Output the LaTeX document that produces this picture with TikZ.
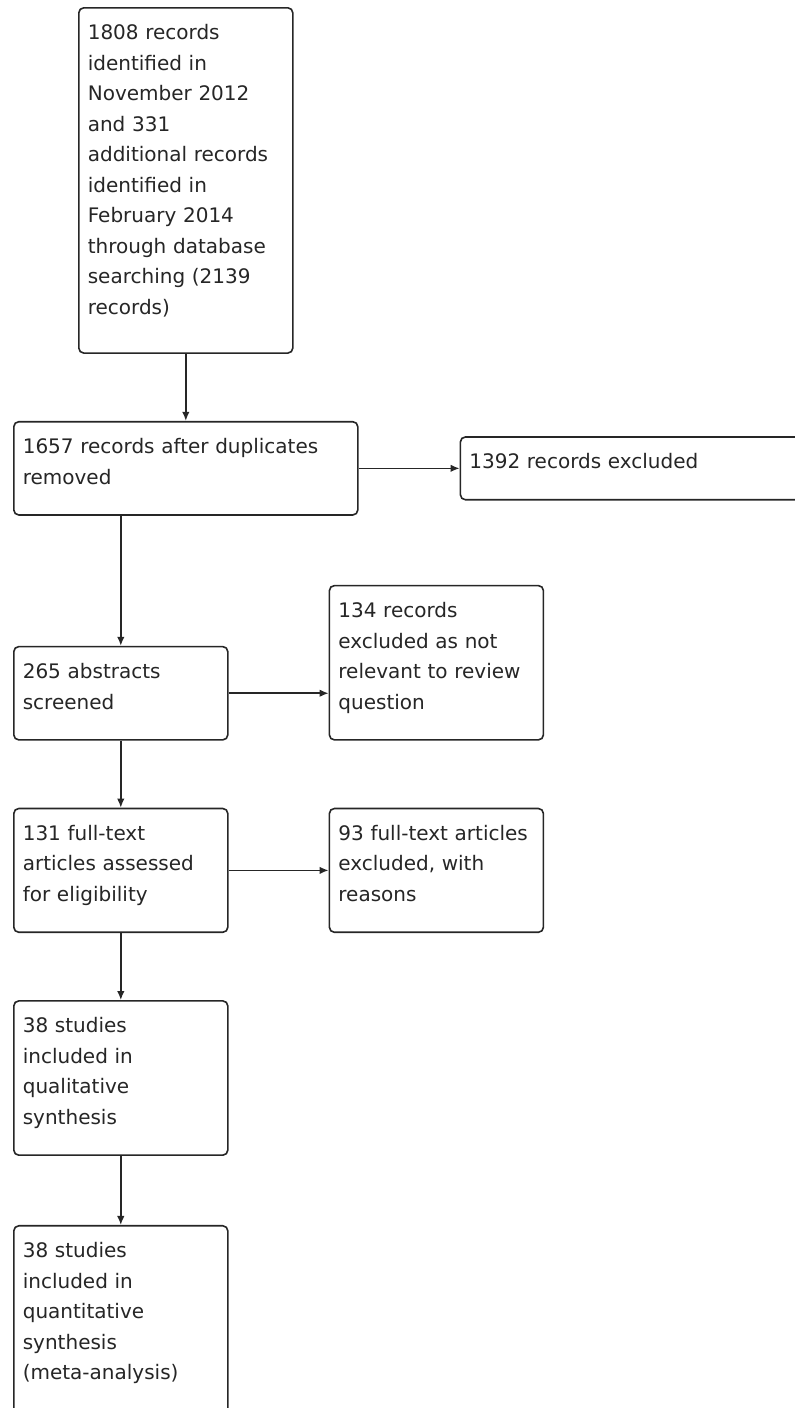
\documentclass[tikz,border=0pt]{standalone}
\usepackage{fontspec}
\setmainfont{DejaVu Sans}
\usepackage{xcolor}
\usepackage{tikz}
\usetikzlibrary{arrows.meta, positioning}

\begin{document}
\begin{tikzpicture}[
        x=1pt, y=1pt,
        box/.style={rectangle, draw=black!85, line width=1.6pt, fill=white, text=black!85, text width=196pt, inner xsep=9pt, inner ysep=16.8pt, align=left, rounded corners=5pt, font=\fontsize{20pt}{30.5pt}\selectfont, execute at end node={\rule[-14pt]{0pt}{14pt}}},
        widebox/.style={box, text width=326pt},
        arrow/.style={-{Latex[length=9pt, width=7.5pt]}, line width=1.6pt, draw=black!85},
    ]
        % Page frame
        \useasboundingbox (0,0) rectangle (795,-1408);
        \clip (0,0) rectangle (795,-1408);

        % Identification
        \node[box, anchor=north west, execute at end node={\rule[-22pt]{0pt}{22pt}}] (search) at (78,-7) {1808 records\\identified in\\November 2012\\and 331\\additional records\\identified in\\February 2014\\through database\\searching (2139\\records)};
        \node[widebox, below=67pt of search] (dedup) {1657 records after duplicates\\removed};
        \node[widebox, right=101pt of dedup] (dropped) {1392 records excluded};

        % Screening
        \node[box, below=130pt of dedup.south west, anchor=north west] (abstracts) {265 abstracts\\screened};
        \node[box, right=100pt of abstracts.south east, anchor=south west] (irrelevant) {134 records\\excluded as not\\relevant to review\\question};

        % Eligibility
        \node[box, below=67pt of abstracts] (fulltext) {131 full-text\\articles assessed\\for eligibility};
        \node[box, right=100pt of fulltext] (reasons) {93 full-text articles\\excluded, with\\reasons};

        % Included
        \node[box, below=67pt of fulltext] (qualitative) {38 studies\\included in\\qualitative\\synthesis};
        \node[box, below=69pt of qualitative, execute at end node={\rule[-28pt]{0pt}{28pt}}] (quantitative) {38 studies\\included in\\quantitative\\synthesis\\(meta-analysis)};

        % Arrows
        \draw[arrow] (search) -- (dedup);
        \draw[arrow] (dedup) -- (dropped);
        \draw[arrow] (abstracts.north |- dedup.south) -- (abstracts.north);
        \draw[arrow] (abstracts.east) -- (irrelevant.west |- abstracts.east);
        \draw[arrow] (abstracts) -- (fulltext);
        \draw[arrow] (fulltext) -- (reasons);
        \draw[arrow] (fulltext) -- (qualitative);
        \draw[arrow] (qualitative) -- (quantitative);
    \end{tikzpicture}
\end{document}
